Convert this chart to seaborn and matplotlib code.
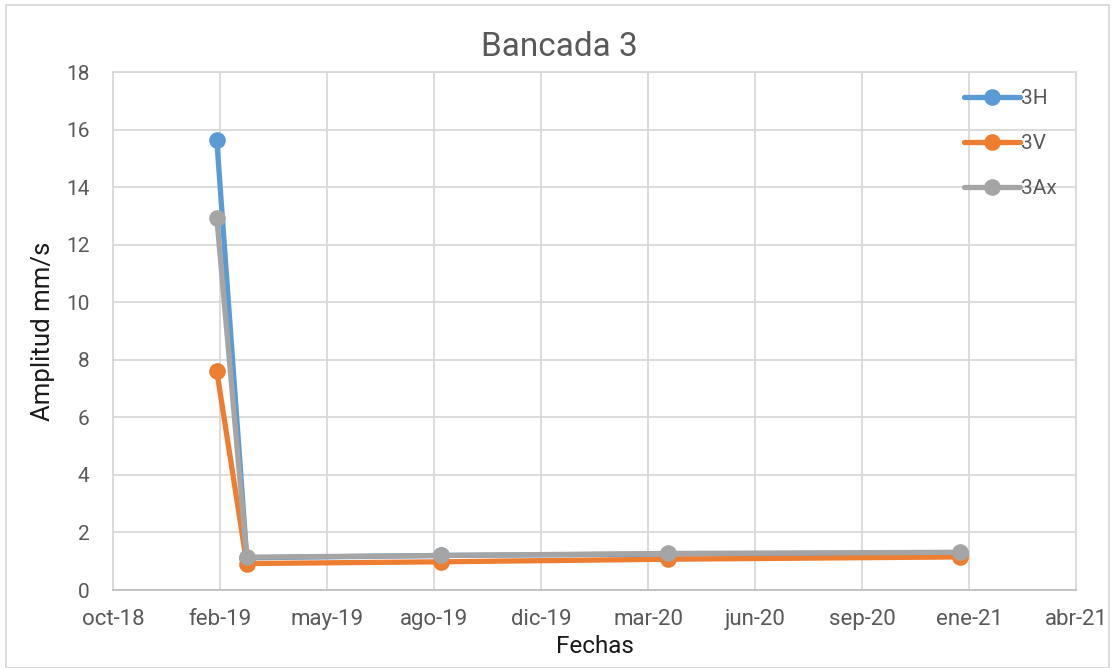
import numpy as np
import pandas as pd
import matplotlib
matplotlib.use("Agg")
import matplotlib.pyplot as plt
import matplotlib.dates as mdates
from matplotlib.patches import Rectangle
import seaborn as sns

# ---- data ----
dates = ["2019-02-03", "2019-03-03", "2019-09-01", "2020-03-31", "2020-12-29"]
h_3H = [15.64, 1.12, 1.20, 1.25, 1.29]
v_3V = [7.61, 0.92, 0.98, 1.07, 1.15]
ax_3Ax = [12.94, 1.14, 1.20, 1.27, 1.31]
series_names = ["3H", "3V", "3Ax"]
tick_labels = ["oct-18", "feb-19", "may-19", "ago-19", "dic-19",
               "mar-20", "jun-20", "sep-20", "ene-21", "abr-21"]
y_ticks = [0, 2, 4, 6, 8, 10, 12, 14, 16, 18]
axis_start = "2018-10-29"
tick_step_days = 100

df = pd.DataFrame({
    "Fecha": pd.to_datetime(dates * 3),
    "Valor": h_3H + v_3V + ax_3Ax,
    "Serie": [s for s in series_names for _ in dates],
})

sns.set_theme(style="white")
plt.rcParams["font.family"] = ["Roboto", "DejaVu Sans"]

palette = {"3H": "#5B9BD5", "3V": "#ED7D31", "3Ax": "#A5A5A5"}
text_col = "#595959"

fig = plt.figure(figsize=(11.15, 6.68), dpi=100)
ax = fig.add_axes([113 / 1115, 1 - 590 / 668, (1076 - 113) / 1115, (590 - 72) / 668])

sns.lineplot(data=df, x="Fecha", y="Valor", hue="Serie", palette=palette,
             hue_order=series_names, marker="o", markersize=12,
             markeredgewidth=0, linewidth=3.8, ax=ax)

start = pd.Timestamp(axis_start)
tick_pos = [mdates.date2num(start + pd.Timedelta(days=tick_step_days * i))
            for i in range(len(tick_labels))]
ax.set_xlim(tick_pos[0], tick_pos[-1])
ax.set_xticks(tick_pos)
ax.set_xticklabels(tick_labels)
ax.set_ylim(0, 18)
ax.set_yticks(y_ticks)

ax.grid(True, color="#D9D9D9", linewidth=1.3)
ax.set_axisbelow(True)
for side in ["top", "right", "left"]:
    ax.spines[side].set_color("#D9D9D9")
    ax.spines[side].set_linewidth(1.3)
ax.spines["bottom"].set_color("#BFBFBF")
ax.spines["bottom"].set_linewidth(1.3)

ax.tick_params(axis="x", labelsize=16, colors=text_col, length=0, pad=14)
ax.tick_params(axis="y", labelsize=15, colors=text_col, length=0, pad=17)

fig.text(0.502, 1 - 47 / 668, "Bancada 3", fontsize=24, color=text_col,
         ha="center", va="center")
ax.set_xlabel("Fechas", fontsize=17.5, color="#1a1a1a", labelpad=3)
ax.set_ylabel("Amplitud mm/s", fontsize=18.5, color="#1a1a1a", labelpad=8)

leg = ax.legend(loc="upper right", frameon=False, fontsize=15,
                handlelength=2.7, handletextpad=0.05, labelspacing=1.25,
                borderaxespad=0.3, bbox_to_anchor=(0.995, 0.995))
for t in leg.get_texts():
    t.set_color(text_col)

fig.patches.append(Rectangle((6 / 1115, 0.0), 1 - 12 / 1115, 1 - 5 / 668,
                             transform=fig.transFigure, fill=False,
                             edgecolor="#D9D9D9", linewidth=1.3))

fig.savefig("out.png", dpi=100)
